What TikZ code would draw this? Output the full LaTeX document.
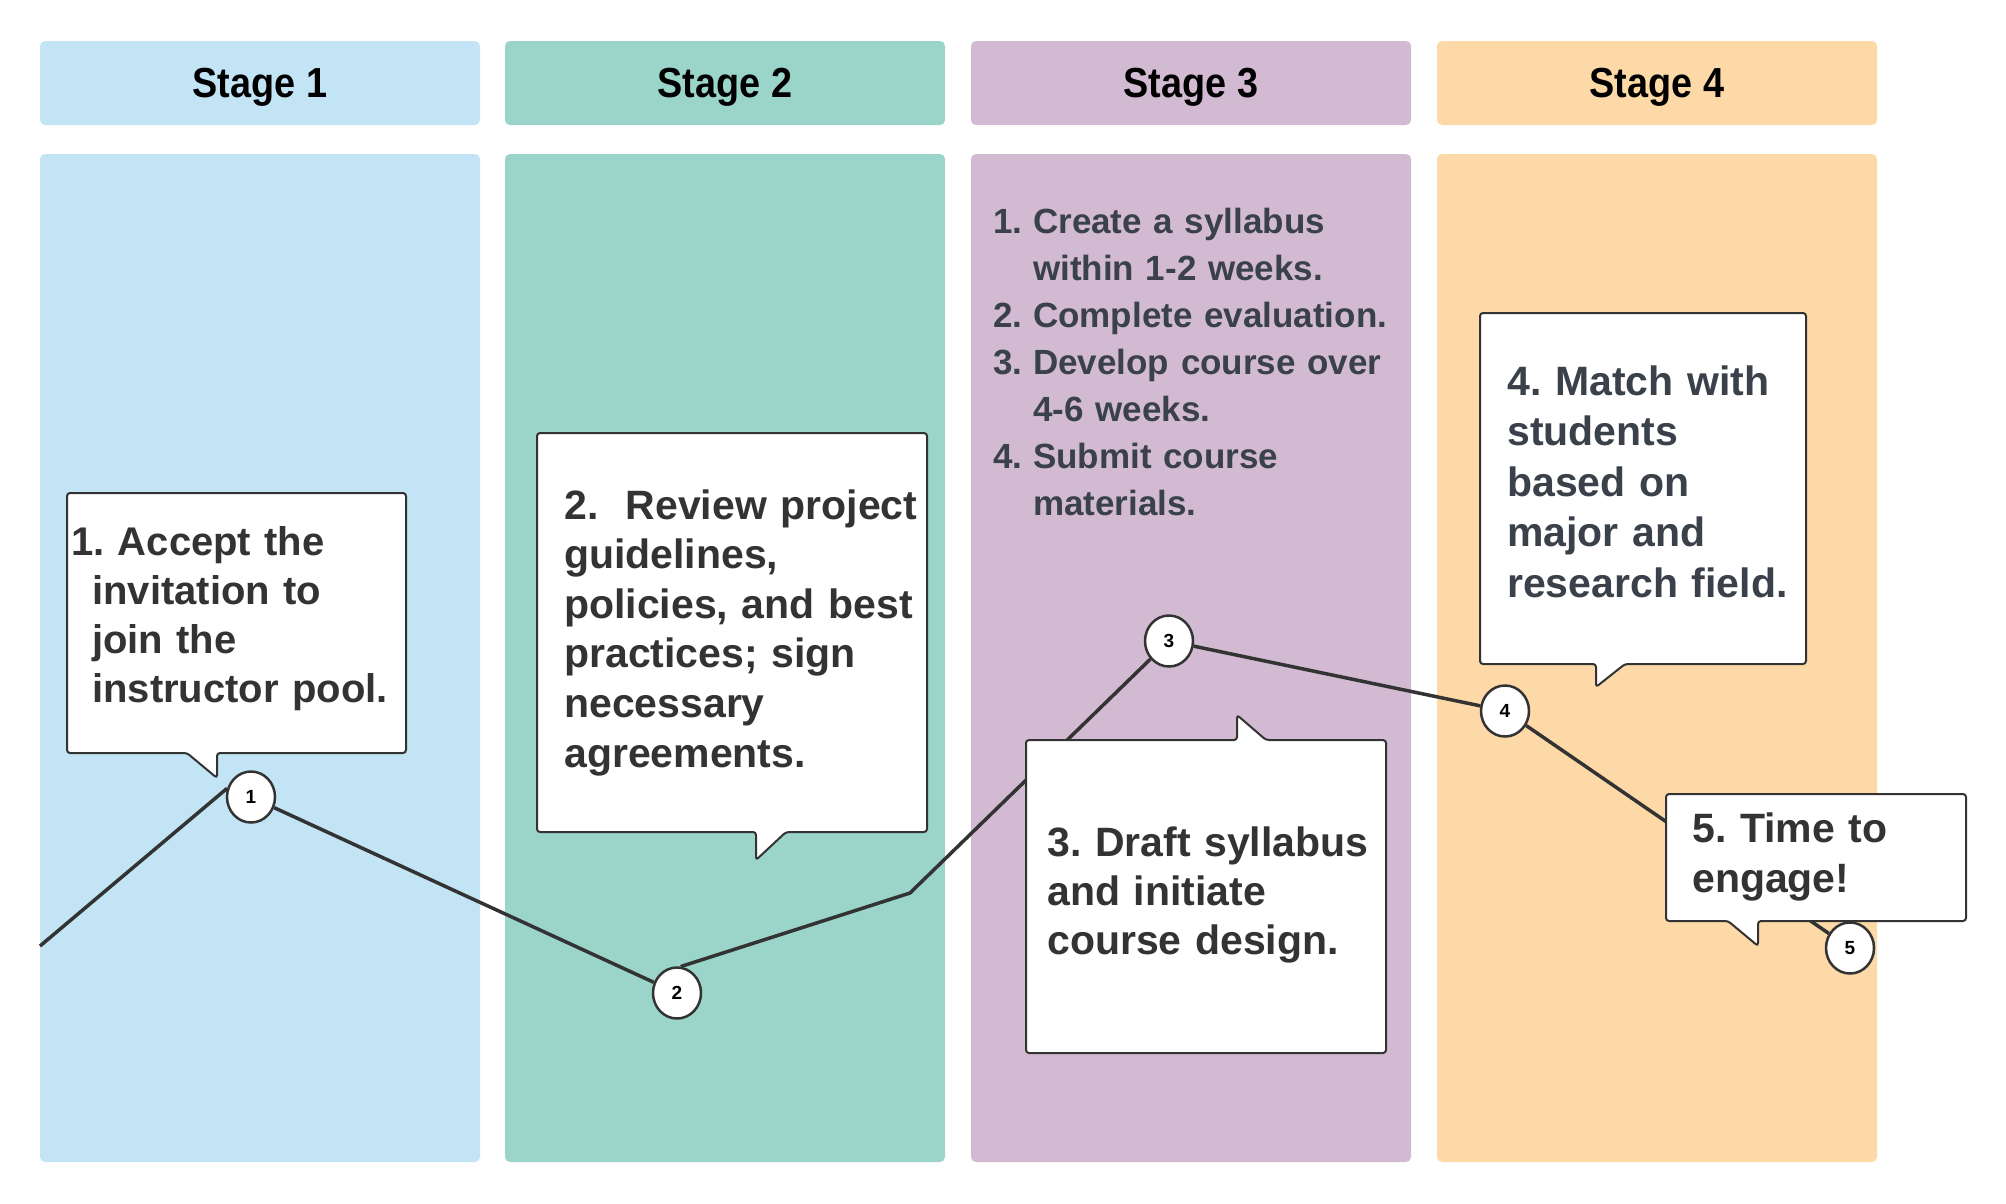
\documentclass[tikz,border=0pt]{standalone}
\usepackage{fontspec}
\usetikzlibrary{shapes.geometric}
\setmainfont{Liberation Sans}
\newfontfamily\headfont[FakeStretch=0.9]{Liberation Sans}
\definecolor{cA}{HTML}{C2E4F5}
\definecolor{cB}{HTML}{9BD5CA}
\definecolor{cC}{HTML}{D2BBD2}
\definecolor{cD}{HTML}{FDD9A8}
\definecolor{linec}{HTML}{333333}
\definecolor{txtA}{HTML}{333333}
\definecolor{txtB}{HTML}{3A414A}
\newcommand{\numbox}[1]{\makebox[40pt][l]{#1}}
\frenchspacing
\begin{document}
\begin{tikzpicture}[x=1pt,y=-1pt,
  hdr/.style={rectangle, rounded corners=5pt, minimum width=440pt, minimum height=84pt, inner sep=0pt, text depth=0pt, font=\headfont\bfseries\fontsize{42}{42}\selectfont, text=black},
  colbody/.style={rounded corners=5pt},
  conn/.style={draw=linec, line width=3.5pt},
  stepcirc/.style={ellipse, draw=linec, line width=2.5pt, fill=white, minimum width=48pt, minimum height=51pt, inner sep=0pt, font=\bfseries\fontsize{19}{19}\selectfont},
  bubble/.style={draw=linec, line width=2pt, fill=white, rounded corners=3pt},
  btext/.style={anchor=base west, inner sep=0pt, align=left, text width=#1, text=txtA},
  btext/.default=380pt
]
\useasboundingbox (0,0) rectangle (2006,1203);
\fill[white] (0,0) rectangle (2006,1203);

% column headers
\node[hdr, fill=cA] (h1) at (260,83) {Stage 1};
\node[hdr, fill=cB] (h2) at (725,83) {Stage 2};
\node[hdr, fill=cC] (h3) at (1191,83) {Stage 3};
\node[hdr, fill=cD] (h4) at (1657,83) {Stage 4};

% column bodies
\fill[cA, colbody] (40,154) rectangle (480,1162);
\fill[cB, colbody] (505,154) rectangle (945,1162);
\fill[cC, colbody] (971,154) rectangle (1411,1162);
\fill[cD, colbody] (1437,154) rectangle (1877,1162);

% stage 3 list
\node[btext=420pt, text=txtB, font=\bfseries\fontsize{35}{47}\selectfont] (list3) at (993,233)
  {\numbox{1.}Create a syllabus\\
   \hspace*{40pt}within 1-2 weeks.\\
   \numbox{2.}Complete evaluation.\\
   \numbox{3.}Develop course over\\
   \hspace*{40pt}4-6 weeks.\\
   \numbox{4.}Submit course\\
   \hspace*{40pt}materials.};

% step markers
\node[stepcirc] (n1) at (251,797) {1};
\node[stepcirc] (n2) at (677,993) {2};
\node[stepcirc] (n3) at (1169,641) {3};
\node[stepcirc] (n4) at (1505,711) {4};
\node[stepcirc] (n5) at (1850,948) {5};
\coordinate (start) at (40,946);
\coordinate (bend) at (910,893);

\draw[conn] (start) -- (n1.160);
\draw[conn] (n1) -- (n2);
\draw[conn] (n2.82) -- (bend) -- (n3) -- (n4) -- (n5);

% callout 1
\draw[bubble] (67,493) -- (406,493) -- (406,753) -- (217,753) -- (217,778) -- (187,753) -- (67,753) -- cycle;
\node[btext=340pt, font=\bfseries\fontsize{40}{49.3}\selectfont] (t1) at (71,555)
  {1. Accept the\\ \hspace*{21pt}invitation to\\ \hspace*{21pt}join the\\ \hspace*{21pt}instructor pool.};

% callout 2
\draw[bubble] (537,433) -- (927,433) -- (927,832) -- (786,832) -- (756,860) -- (756,832) -- (537,832) -- cycle;
\node[btext=360pt, font=\bfseries\fontsize{41}{49.6}\selectfont] (t2) at (564,519)
  {2.\ \ Review project\\guidelines,\\policies, and best\\practices; sign\\necessary\\agreements.};

% callout 3
\draw[bubble] (1026,740) -- (1237,740) -- (1237,715) -- (1266,740) -- (1386,740) -- (1386,1053) -- (1026,1053) -- cycle;
\node[btext=330pt, font=\bfseries\fontsize{41}{49}\selectfont] (t3) at (1047,856)
  {3. Draft syllabus\\and initiate\\course design.};

% callout 4
\draw[bubble] (1480,313) -- (1806,313) -- (1806,664) -- (1625,664) -- (1596,687) -- (1596,664) -- (1480,664) -- cycle;
\node[btext=300pt, text=txtB, font=\bfseries\fontsize{41}{50.5}\selectfont] (t4) at (1507,395)
  {4. Match with\\students\\based on\\major and\\research field.};

% callout 5
\draw[bubble] (1666,794) -- (1966,794) -- (1966,921) -- (1758,921) -- (1758,946) -- (1728,921) -- (1666,921) -- cycle;
\node[btext=270pt, font=\bfseries\fontsize{41}{50}\selectfont] (t5) at (1692,842)
  {5. Time to\\engage!};
\end{tikzpicture}
\end{document}
